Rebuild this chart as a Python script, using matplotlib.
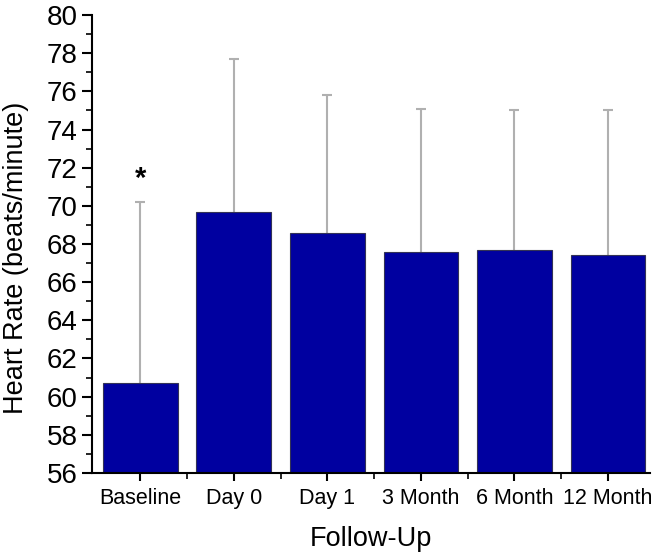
import numpy as np
import matplotlib.pyplot as plt
from matplotlib.ticker import MultipleLocator

plt.rcParams['font.family'] = ['Liberation Sans', 'DejaVu Sans']

# data
categories = ["Baseline", "Day 0", "Day 1", "3 Month", "6 Month", "12 Month"]
heart_rate = [60.7, 69.7, 68.6, 67.6, 67.7, 67.4]
upper_err = [9.5, 8.0, 7.2, 7.5, 7.3, 7.6]
sig_label = "*"
sig_y = 71.4

x = np.arange(len(categories))
err_top = np.array(heart_rate) + np.array(upper_err)

fig = plt.figure(figsize=(6.6, 5.57), dpi=100)
ax = fig.add_axes([0.139, 0.151, 0.846, 0.822])

ax.bar(x, [h - 56 for h in heart_rate], bottom=56, width=0.8,
       color="#0000a0", edgecolor="#333355", linewidth=0.8, zorder=2)
# upper-only error bars with a single cap
ax.vlines(x, heart_rate, err_top, color="#b0b0b0", linewidth=1.5, zorder=1)
ax.plot(x, err_top, linestyle="none", marker="_", markersize=7,
        markeredgewidth=1.5, color="#b0b0b0", zorder=1)
ax.text(x[0], sig_y, sig_label, ha="center", va="center", fontsize=21, fontweight="bold")

ax.set_ylim(56, 80)
ax.set_xlim(-0.52, 5.45)
ax.yaxis.set_major_locator(MultipleLocator(2))
ax.yaxis.set_minor_locator(MultipleLocator(1))
ax.set_xticks(x)
ax.set_xticklabels(categories, fontsize=15.5)
ax.set_xticks(x[:-1] + 0.5, minor=True)
ax.tick_params(axis="y", labelsize=20, width=1.5, length=7, pad=3)
ax.tick_params(axis="y", which="minor", width=1.2, length=4)
ax.tick_params(axis="x", width=1.5, length=6, pad=5)
ax.tick_params(axis="x", which="minor", width=1.2, length=4)

for s in ["top", "right"]:
    ax.spines[s].set_visible(False)
for s in ["left", "bottom"]:
    ax.spines[s].set_linewidth(1.5)

ax.set_ylabel("Heart Rate (beats/minute)", fontsize=19.5)
ax.yaxis.set_label_coords(-0.112, 0.47)
ax.set_xlabel("Follow-Up", fontsize=19.5, labelpad=12)

fig.savefig("out.png", dpi=100)
